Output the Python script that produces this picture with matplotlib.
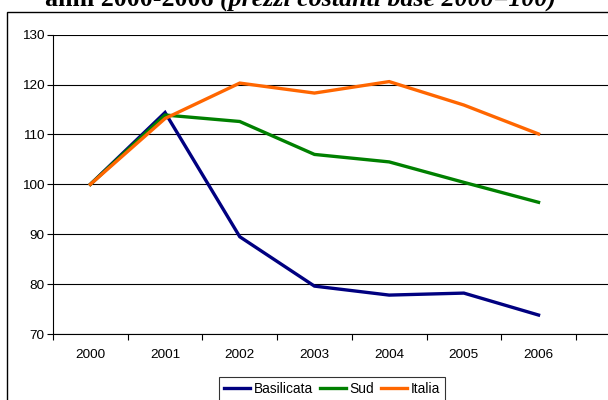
import matplotlib
matplotlib.use("Agg")
import matplotlib.pyplot as plt
from matplotlib.patches import Rectangle
from matplotlib.ticker import FixedLocator

years = ["2000", "2001", "2002", "2003", "2004", "2005", "2006"]
basilicata = [100, 114.4, 89.5, 79.6, 77.8, 78.2, 73.8]
sud = [100, 113.9, 112.6, 106.0, 104.5, 100.4, 96.4]
italia = [100, 113.2, 120.3, 118.3, 120.6, 115.9, 110.1]
series_names = ["Basilicata", "Sud", "Italia"]
colors = ["#000080", "#008000", "#FF6600"]
yticks = [70, 80, 90, 100, 110, 120, 130]

W, H = 608, 400
plt.rcParams['font.family'] = ['Liberation Sans', 'DejaVu Sans']
fig = plt.figure(figsize=(W / 100, H / 100), dpi=100)

# axes placement in pixels
left, right = 53, 640
top, bottom = 34.7, 334
ax = fig.add_axes([left / W, 1 - bottom / H, (right - left) / W, (bottom - top) / H])

x = list(range(len(years)))
cat_w = 74.7
ax.set_xlim(-0.5, -0.5 + (right - left) / cat_w)
ax.set_ylim(70, 130)

for vals, name, c in zip([basilicata, sud, italia], series_names, colors):
    ax.plot(x, vals, color=c, lw=2.4, label=name, solid_joinstyle='miter')

ax.set_yticks(yticks)
ax.yaxis.grid(True, color='black', lw=0.8)
ax.set_axisbelow(True)
ax.set_xticks(x)
ax.set_xticklabels(years)
ax.xaxis.set_minor_locator(FixedLocator([i - 0.5 for i in range(len(years) + 1)]))
ax.tick_params(axis='x', which='major', length=0, pad=11, labelsize=9.7)
ax.tick_params(axis='x', which='minor', length=4, direction='out', width=0.8)
ax.tick_params(axis='y', length=4, direction='out', width=0.8, labelsize=9.7, pad=2)
for s in ['top', 'right']:
    ax.spines[s].set_visible(False)
for s in ['left', 'bottom']:
    ax.spines[s].set_linewidth(0.8)

leg = fig.legend(loc='upper left', bbox_to_anchor=(219 / W, 1 - 377 / H),
                 ncol=3, frameon=True, fancybox=False, edgecolor='black',
                 fontsize=9.9, handlelength=1.9, handletextpad=0.3,
                 columnspacing=0.45, borderpad=0.35, borderaxespad=0)
leg.get_frame().set_linewidth(0.8)

# outer chart frame
fig.patches.append(Rectangle((7 / W, -0.1), 1.2, 1 - 12.5 / H + 0.1,
                             transform=fig.transFigure, fill=False,
                             edgecolor='black', lw=1.0))

# title (cut off at the top edge, as in the source)
t1 = fig.text(45 / W, 1 - 6 / H, "anni 2000-2006 ", family='Liberation Serif',
              weight='bold', fontsize=18.6, va='baseline', ha='left')
fig.canvas.draw()
bb = t1.get_window_extent()
fig.text(bb.x1 / W, 1 - 6 / H, "(prezzi costanti base 2000=100)",
         family='Liberation Serif', weight='bold', style='italic',
         fontsize=18.6, va='baseline', ha='left')

fig.savefig("out.png", dpi=100)
